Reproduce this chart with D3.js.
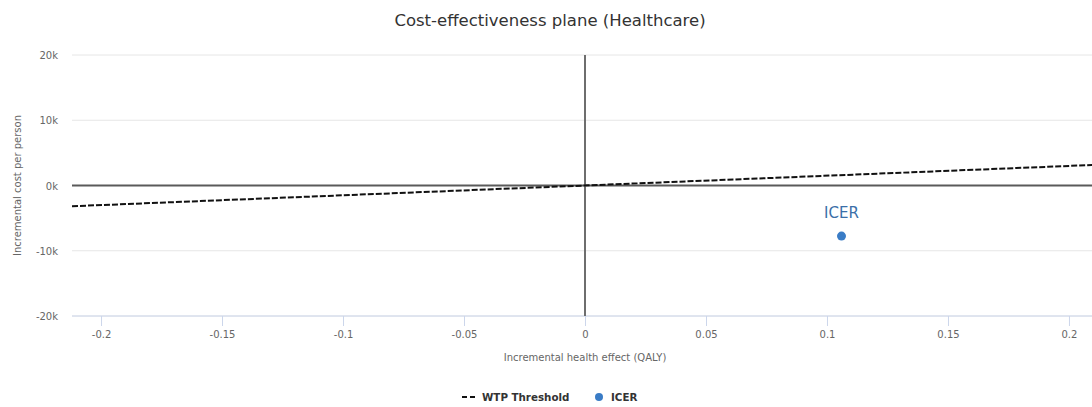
<!DOCTYPE html>
<html><head><meta charset="utf-8">
<script src="https://cdn.jsdelivr.net/npm/d3@7"></script>
<style>body{margin:0;background:#fff}svg{display:block}text{font-family:"DejaVu Sans",sans-serif}</style>
</head><body>
<svg id="c" width="1092" height="407"></svg>
<script>
const xTicks = [-0.2, -0.15, -0.1, -0.05, 0, 0.05, 0.1, 0.15, 0.2];
const xTickLabels = ["-0.2", "-0.15", "-0.1", "-0.05", "0", "0.05", "0.1", "0.15", "0.2"];
const yTicks = [-20000, -10000, 0, 10000, 20000];
const yTickLabels = ["-20k", "-10k", "0k", "10k", "20k"];
const wtpX = [-0.212, 0.212];
const wtpY = [-3180, 3180];
const icerX = [0.106];
const icerY = [-7750];
const icerLabels = ["ICER"];

const svg = d3.select("#c");
const x = d3.scaleLinear().domain([-0.212, 0.212]).range([72, 1098]);
const y = d3.scaleLinear().domain([-20000, 20000]).range([316, 55]);

// grid
svg.append("g").selectAll("line").data(yTicks).join("line")
  .attr("x1", 72).attr("x2", 1092)
  .attr("y1", d => y(d)).attr("y2", d => y(d))
  .attr("stroke", "#e6e6e6").attr("stroke-width", 1);

// y labels
svg.append("g").selectAll("text").data(yTicks).join("text")
  .attr("x", 58).attr("y", d => y(d) + 4).attr("text-anchor", "end")
  .attr("font-size", 10).attr("fill", "#666")
  .text((d, i) => yTickLabels[i]);

// x axis
const xAxis = d3.axisBottom(x).tickValues(xTicks).tickSize(10).tickPadding(5)
  .tickFormat((d, i) => xTickLabels[i]);
const gx = svg.append("g").attr("transform", `translate(0,${y(-20000)})`).call(xAxis);
gx.attr("font-family", null).attr("font-size", null);
gx.select(".domain").remove();
gx.selectAll(".tick line").attr("stroke", "#ccd6eb");
gx.selectAll(".tick text").attr("font-size", 10).attr("fill", "#666").attr("font-family", "DejaVu Sans, sans-serif");
svg.append("line").attr("x1", 72).attr("x2", 1092).attr("y1", y(-20000)).attr("y2", y(-20000))
  .attr("stroke", "#ccd6eb").attr("stroke-width", 1);

// zero lines
svg.append("line").attr("x1", 72).attr("x2", 1092).attr("y1", y(0)).attr("y2", y(0))
  .attr("stroke", "#5a5a5a").attr("stroke-width", 2);
svg.append("line").attr("x1", x(0)).attr("x2", x(0)).attr("y1", y(20000)).attr("y2", y(-20000))
  .attr("stroke", "#6e6e6e").attr("stroke-width", 2);

// WTP line
const line = d3.line().x(d => x(d[0])).y(d => y(d[1]));
svg.append("path").datum(wtpX.map((v, i) => [v, wtpY[i]]))
  .attr("d", line).attr("fill", "none").attr("stroke", "#111")
  .attr("stroke-width", 2).attr("stroke-dasharray", "6,2");

// ICER
svg.append("g").selectAll("circle").data(icerX).join("circle")
  .attr("cx", d => x(d)).attr("cy", (d, i) => y(icerY[i])).attr("r", 4.5)
  .attr("fill", "#3a7cc6");
svg.append("g").selectAll("text").data(icerX).join("text")
  .attr("x", d => x(d)).attr("y", (d, i) => y(icerY[i]) - 18)
  .attr("text-anchor", "middle").attr("font-size", 15).attr("fill", "#3b6fa8")
  .text((d, i) => icerLabels[i]);

// title
svg.append("text").attr("x", 550).attr("y", 26).attr("text-anchor", "middle")
  .attr("font-size", 16.5).attr("fill", "#333").text("Cost-effectiveness plane (Healthcare)");

// axis titles
svg.append("text").attr("x", x(0)).attr("y", 361).attr("text-anchor", "middle")
  .attr("font-size", 10).attr("fill", "#666").text("Incremental health effect (QALY)");
svg.append("text").attr("transform", `translate(21,${y(0)}) rotate(-90)`).attr("text-anchor", "middle")
  .attr("font-size", 10).attr("fill", "#666").text("Incremental cost per person");

// legend
const lg = svg.append("g");
lg.append("line").attr("x1", 462).attr("x2", 476).attr("y1", 397).attr("y2", 397)
  .attr("stroke", "#111").attr("stroke-width", 2).attr("stroke-dasharray", "5,3");
lg.append("text").attr("x", 482).attr("y", 401).attr("font-size", 10.3).attr("font-weight", "bold")
  .attr("fill", "#333").text("WTP Threshold");
lg.append("circle").attr("cx", 599).attr("cy", 397).attr("r", 4).attr("fill", "#3a7cc6");
lg.append("text").attr("x", 611).attr("y", 401).attr("font-size", 10.3).attr("font-weight", "bold")
  .attr("fill", "#333").text("ICER");
</script>
</body></html>
